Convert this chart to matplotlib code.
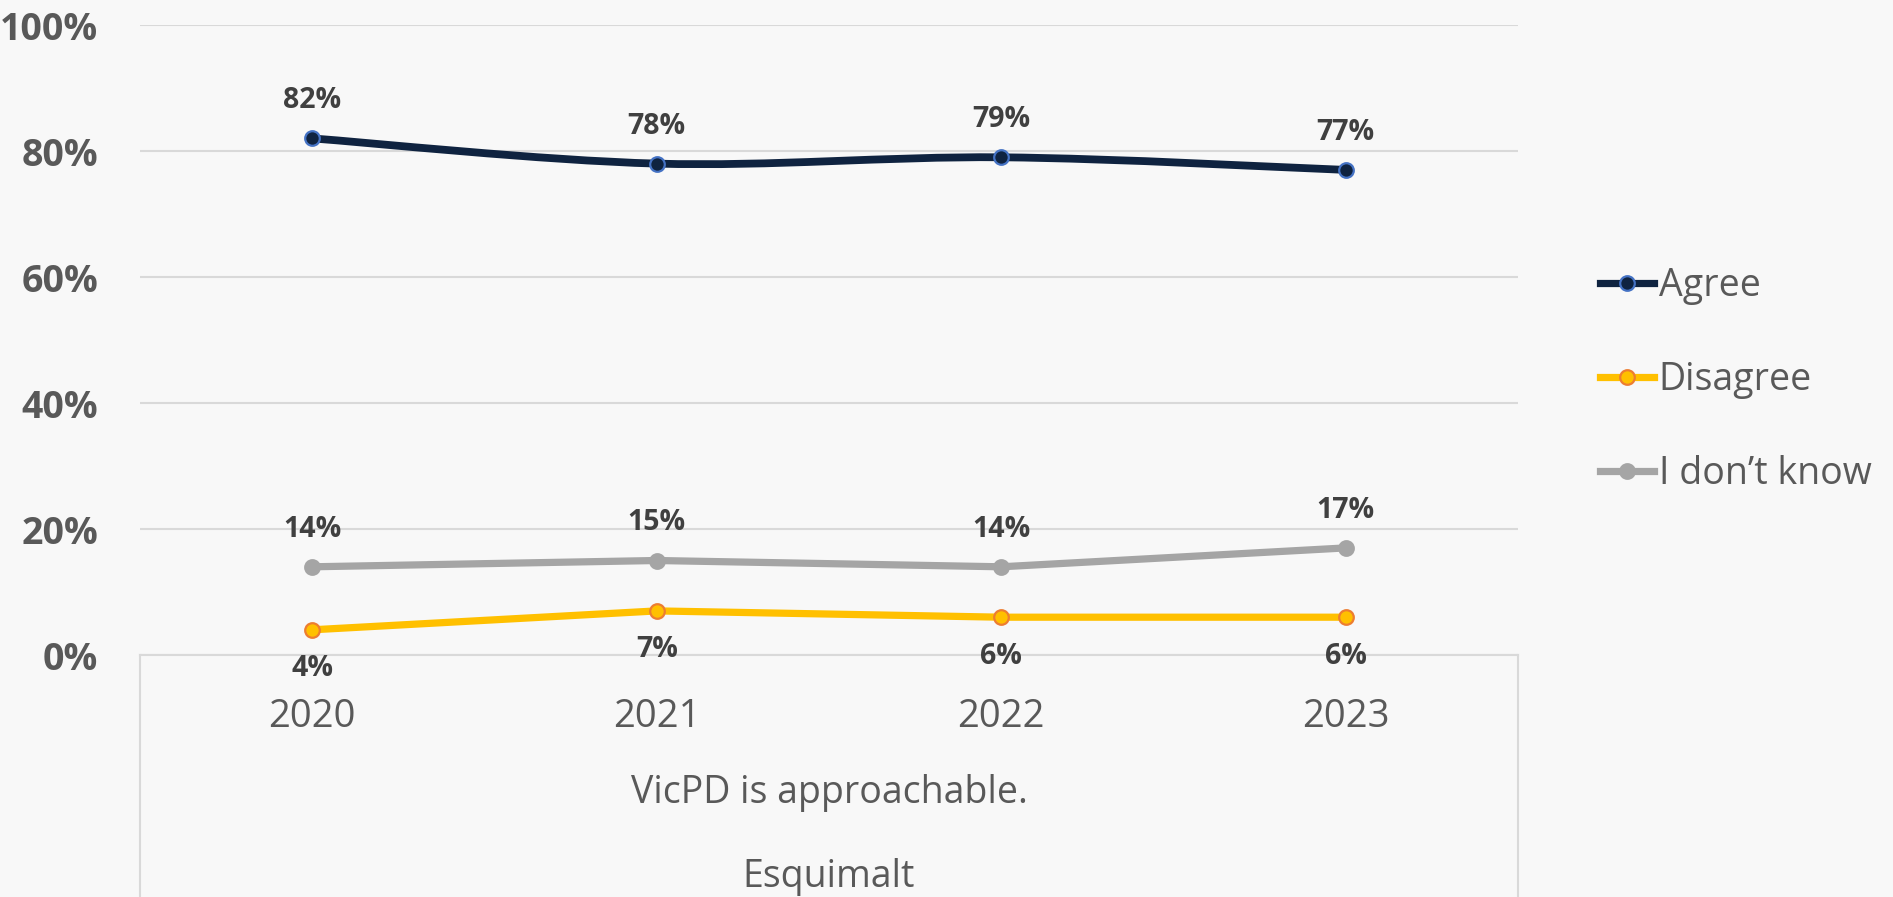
import matplotlib
matplotlib.use("Agg")
import matplotlib.pyplot as plt
from matplotlib.path import Path
from matplotlib.patches import PathPatch
from matplotlib.lines import Line2D
import numpy as np

# ---- data ----
years = ["2020", "2021", "2022", "2023"]
agree = [0.82, 0.78, 0.79, 0.77]
disagree = [0.04, 0.07, 0.06, 0.06]
dont_know = [0.14, 0.15, 0.14, 0.17]
series_names = ["Agree", "Disagree", "I don\u2019t know"]
y_ticks = [0, 0.2, 0.4, 0.6, 0.8, 1.0]
y_tick_labels = ["0%", "20%", "40%", "60%", "80%", "100%"]
category_label = "VicPD is approachable."
group_label = "Esquimalt"

# ---- style ----
FONT = "Open Sans"
BG = "#F8F8F8"
GRID = "#D9D9D9"
TXT = "#595959"
LBL = "#404040"
AGREE_C, AGREE_E = "#0F2340", "#4472C4"
DIS_C, DIS_E = "#FFC000", "#ED7D31"
DK_C = "#A5A5A5"

W, H, DPI = 1893, 897, 100
fig = plt.figure(figsize=(W / DPI, H / DPI), dpi=DPI, facecolor=BG)
ax = fig.add_axes([140 / W, (H - 655) / H, (1518 - 140) / W, (655 - 25) / H])
ax.set_facecolor(BG)

x = np.arange(len(years))

# smoothed Agree line (Catmull-Rom via cubic Bezier, like Excel smoothing)
def smooth_path(xs, ys):
    pts = np.column_stack([xs, ys]).astype(float)
    n = len(pts)
    verts = [pts[0]]
    codes = [Path.MOVETO]
    for i in range(n - 1):
        p0 = pts[i - 1] if i > 0 else pts[i]
        p1 = pts[i]
        p2 = pts[i + 1]
        p3 = pts[i + 2] if i + 2 < n else pts[i + 1]
        c1 = p1 + (p2 - p0) / 6.0
        c2 = p2 - (p3 - p1) / 6.0
        verts += [c1, c2, p2]
        codes += [Path.CURVE4] * 3
    return Path(verts, codes)

lw = 5.2
ax.add_patch(PathPatch(smooth_path(x, agree), facecolor="none", edgecolor=AGREE_C,
                       lw=5.6, capstyle="round", zorder=3))
ax.plot(x, agree, linestyle="none", marker="o", ms=10.5, mfc=AGREE_C, mec=AGREE_E,
        mew=1.6, zorder=4)
ax.plot(x, disagree, color=DIS_C, lw=lw, marker="o", ms=10.5, mfc=DIS_C, mec=DIS_E,
        mew=1.6, solid_capstyle="round", zorder=3)
ax.plot(x, dont_know, color=DK_C, lw=lw, marker="o", ms=10.5, mfc=DK_C, mec=DK_C,
        mew=1.6, solid_capstyle="round", zorder=3)

# data labels
lab_kw = dict(ha="center", va="center", fontsize=20.5, fontweight="bold", color=LBL,
              family=FONT, textcoords="offset points", annotation_clip=False)
for xi, v in zip(x, agree):
    ax.annotate(f"{round(v*100)}%", (xi, v), xytext=(0, 27), **lab_kw)
for xi, v in zip(x, dont_know):
    ax.annotate(f"{round(v*100)}%", (xi, v), xytext=(0, 27), **lab_kw)
for xi, v in zip(x, disagree):
    ax.annotate(f"{round(v*100)}%", (xi, v), xytext=(0, -28), **lab_kw)

# axes
ax.set_xlim(-0.5, len(years) - 0.5)
ax.set_ylim(0, 1.0)
ax.set_yticks(y_ticks)
ax.set_yticklabels(y_tick_labels, fontsize=27, fontweight="bold", color=TXT, family=FONT)
ax.set_xticks(x)
ax.set_xticklabels(years, fontsize=27.5, color=TXT, family=FONT)
ax.tick_params(axis="y", length=0, pad=30)
ax.tick_params(axis="x", length=0, pad=31)
ax.grid(axis="y", color=GRID, lw=1.5)
ax.set_axisbelow(True)
for s in ["top", "right", "left"]:
    ax.spines[s].set_visible(False)
ax.spines["bottom"].set_color(GRID)
ax.spines["bottom"].set_linewidth(1.5)

# multi-level category box lines
tr = ax.get_xaxis_transform()
for xv in (-0.5, len(years) - 0.5):
    ax.plot([xv, xv], [0, -0.6], transform=tr, color=GRID, lw=1.5, clip_on=False)

fig.text((140 + 1518) / 2 / W, 94 / H, category_label, ha="center", va="baseline",
         fontsize=27, color=TXT, family=FONT)
fig.text((140 + 1518) / 2 / W, 10 / H, group_label, ha="center", va="baseline",
         fontsize=27, color=TXT, family=FONT)

# legend
handles = [
    Line2D([], [], color=AGREE_C, lw=lw, marker="o", ms=10.5, mfc=AGREE_C, mec=AGREE_E, mew=1.6),
    Line2D([], [], color=DIS_C, lw=lw, marker="o", ms=10.5, mfc=DIS_C, mec=DIS_E, mew=1.6),
    Line2D([], [], color=DK_C, lw=lw, marker="o", ms=10.5, mfc=DK_C, mec=DK_C, mew=1.6),
]
leg = fig.legend(handles, series_names, loc="center left",
                 bbox_to_anchor=(1600 / W, (H - 380) / H), frameon=False,
                 prop={"family": FONT, "size": 27}, handlelength=1.45,
                 handletextpad=0.12, labelspacing=1.5, borderpad=0, borderaxespad=0)
for t in leg.get_texts():
    t.set_color(TXT)

fig.savefig("out.png", dpi=DPI, facecolor=BG)
